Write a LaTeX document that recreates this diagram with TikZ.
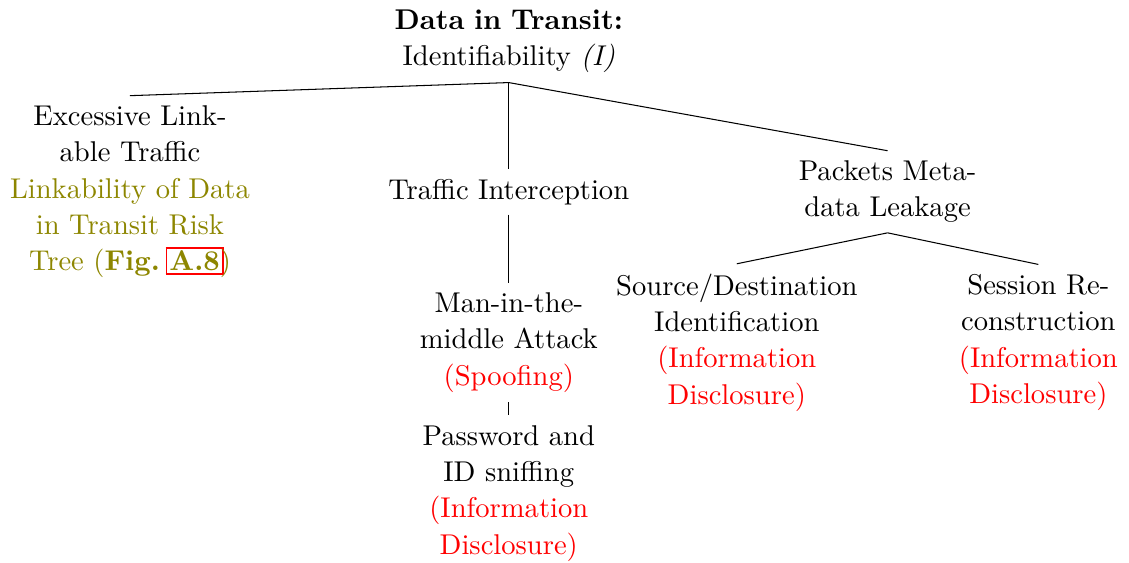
\documentclass[11pt,tikz,border=0pt]{standalone}
\usepackage{amsmath}
\usepackage{xcolor}
\usepackage{tikz}
\usetikzlibrary{positioning}

% riquadro rosso del riferimento (come il bordo dei link)
\newcommand{\refbox}[1]{{\setlength{\fboxsep}{0.8pt}\setlength{\fboxrule}{0.7pt}%
    \kern-1.5pt\color{red}\fbox{\color{olive}#1}\kern-1.5pt}}

\begin{document}
\begin{tikzpicture}[node distance=2.03cm, auto]
    % Stile dei nodi
    \tikzstyle{item} = [text width=3.3cm, align=center, font=\fontsize{10.95pt}{13.9pt}\selectfont]

    \useasboundingbox (-6.85,0.552) rectangle (8.35,-7.02);

    % Nodi
    \node [item] (root) {\textbf{Data in Transit:}\\ Identifiability \textit{(I)}};
    \node [item, below of=root, xshift=-5.1cm] (excess) {Excessive Linkable Traffic\\
        \textcolor{olive}{Linkability of Data in Transit Risk Tree (\textbf{Fig.~\refbox{A.8}})}};
    \node [item, below of=root] (intercept) {Traffic Interception};
    \node [item, below of=root, xshift=5.1cm] (meta) {Packets Metadata Leakage};
    \node [item, below of=intercept] (mitm) {Man-in-the-middle Attack\\ \textcolor{red}{(Spoofing)}};
    \node [item, below of=mitm] (sniff) {Password and ID sniffing\\ \textcolor{red}{(Information Disclosure)}};
    \node [item, below of=meta, xshift=-2.03cm] (srcdst) {Source/Destination Identification\\ \textcolor{red}{(Information Disclosure)}};
    \node [item, below of=meta, xshift=2.03cm] (session) {Session Reconstruction\\ \textcolor{red}{(Information Disclosure)}};

    % Collegamenti
    \draw (root.south) -- (excess.north);
    \draw (root.south) -- (intercept.north);
    \draw (root.south) -- (meta.north);
    \draw (intercept.south) -- (mitm.north);
    \draw (mitm.south) -- (sniff.north);
    \draw (meta.south) -- (srcdst.north);
    \draw (meta.south) -- (session.north);
\end{tikzpicture}
\end{document}
